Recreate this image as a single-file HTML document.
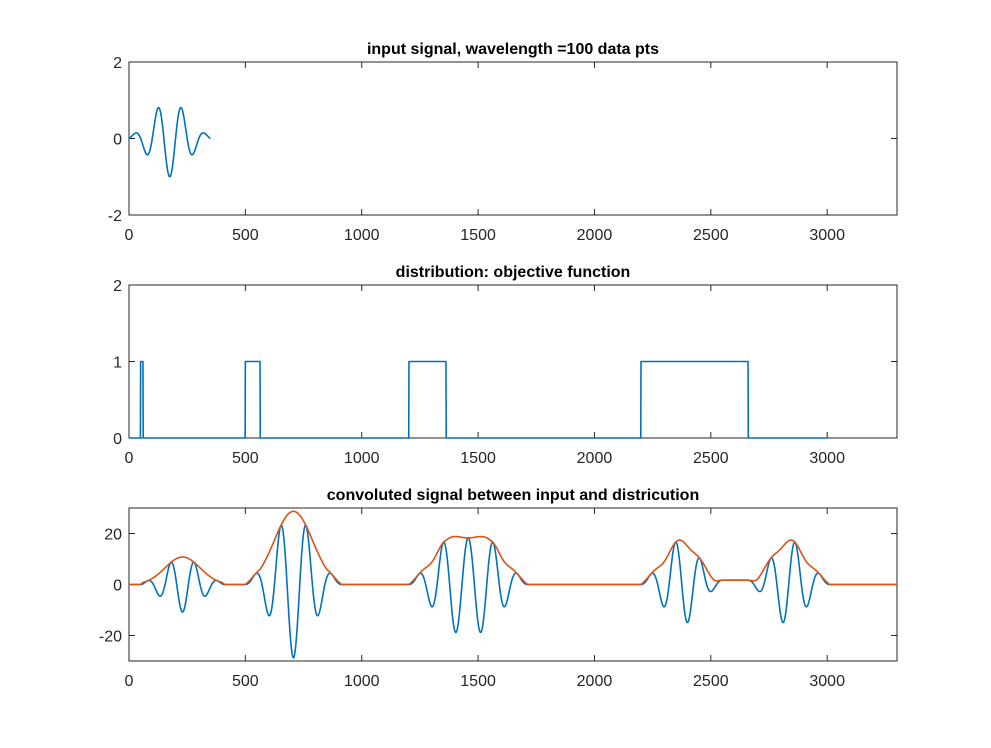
<!DOCTYPE html>
<html><head><meta charset="utf-8"><style>
body{margin:0;background:#fff;}
svg text{font-family:"Liberation Sans",Arial,sans-serif;fill:#262626;}
</style></head><body>
<div id="wrap"></div>
<script>
(function(){
var X0=129,X1=897,XMAX=3300;
function sx(v){return X0+(X1-X0)*v/XMAX;}
var h='';
function mkY(top,bot,ymin,ymax){return function(v){return bot-(bot-top)*(v-ymin)/(ymax-ymin);};}
function axes(top,bot,ymin,ymax,yt,title){
  var sy=mkY(top,bot,ymin,ymax);
  h+='<rect x="'+X0+'" y="'+top+'" width="'+(X1-X0)+'" height="'+(bot-top)+'" fill="#fff" stroke="#262626" stroke-width="1"/>';
  for(var t=0;t<=3000;t+=500){var x=sx(t);
    h+='<line x1="'+x+'" x2="'+x+'" y1="'+bot+'" y2="'+(bot-6)+'" stroke="#262626"/><line x1="'+x+'" x2="'+x+'" y1="'+top+'" y2="'+(top+6)+'" stroke="#262626"/>';
    h+='<text x="'+x+'" y="'+(bot+25)+'" font-size="16" text-anchor="middle">'+t+'</text>';}
  for(var i=0;i<yt.length;i++){var y=sy(yt[i]);
    h+='<line x1="'+X0+'" x2="'+(X0+6)+'" y1="'+y+'" y2="'+y+'" stroke="#262626"/><line x1="'+X1+'" x2="'+(X1-6)+'" y1="'+y+'" y2="'+y+'" stroke="#262626"/>';
    h+='<text x="'+(X0-7)+'" y="'+(y+6)+'" font-size="16" text-anchor="end">'+yt[i]+'</text>';}
  h+='<text x="'+((X0+X1)/2)+'" y="'+(top-8)+'" font-size="16" font-weight="bold" text-anchor="middle" style="fill:#000">'+title+'</text>';
  return sy;
}
function path(n,ys,sy,col,top,bot){
  var d='';for(var i=0;i<n;i++){var y=Math.max(top,Math.min(bot,sy(ys[i])));d+=(i?'L':'M')+sx(i).toFixed(2)+' '+y.toFixed(2);}
  h+='<path d="'+d+'" fill="none" stroke="'+col+'" stroke-width="1.6" stroke-linejoin="round"/>';
}
var N=351,sig=106,c0=175,w=[],q=[],t,k,j;
for(t=0;t<N;t++){var u=t-c0,g=Math.exp(-(u/sig)*(u/sig));w.push(-Math.cos(2*Math.PI*u/100)*g);q.push(Math.sin(2*Math.PI*u/100)*g);}
var boxes=[[50,60],[500,563],[1203,1362],[2200,2660]];
var D=[];for(t=0;t<=3000;t++)D.push(0);
for(k=0;k<boxes.length;k++)for(t=boxes[k][0];t<=boxes[k][1];t++)D[t]=1;
var sy=axes(62,215,-2,2,[-2,0,2],'input signal, wavelength =100 data pts');
path(N,w,sy,'#0072BD',62,215);
sy=axes(285,438,0,2,[0,1,2],'distribution: objective function');
path(3001,D,sy,'#0072BD',285,438);
var L=3001+N-1,C=[],Q=[];for(t=0;t<L;t++){C.push(0);Q.push(0);}
for(k=0;k<=3000;k++)if(D[k])for(j=0;j<N;j++){C[k+j]+=w[j];Q[k+j]+=q[j];}
var E=[];for(t=0;t<L;t++)E.push(Math.sqrt(C[t]*C[t]+Q[t]*Q[t]));
var n=Math.min(L,XMAX+1);
sy=axes(508,661,-30,30,[-20,0,20],'convoluted signal between input and districution');
path(n,C,sy,'#0072BD',508,661);
path(n,E,sy,'#D95319',508,661);
document.getElementById('wrap').innerHTML='<svg width="991" height="743" xmlns="http://www.w3.org/2000/svg">'+h+'</svg>';
})();
</script>
</body></html>
